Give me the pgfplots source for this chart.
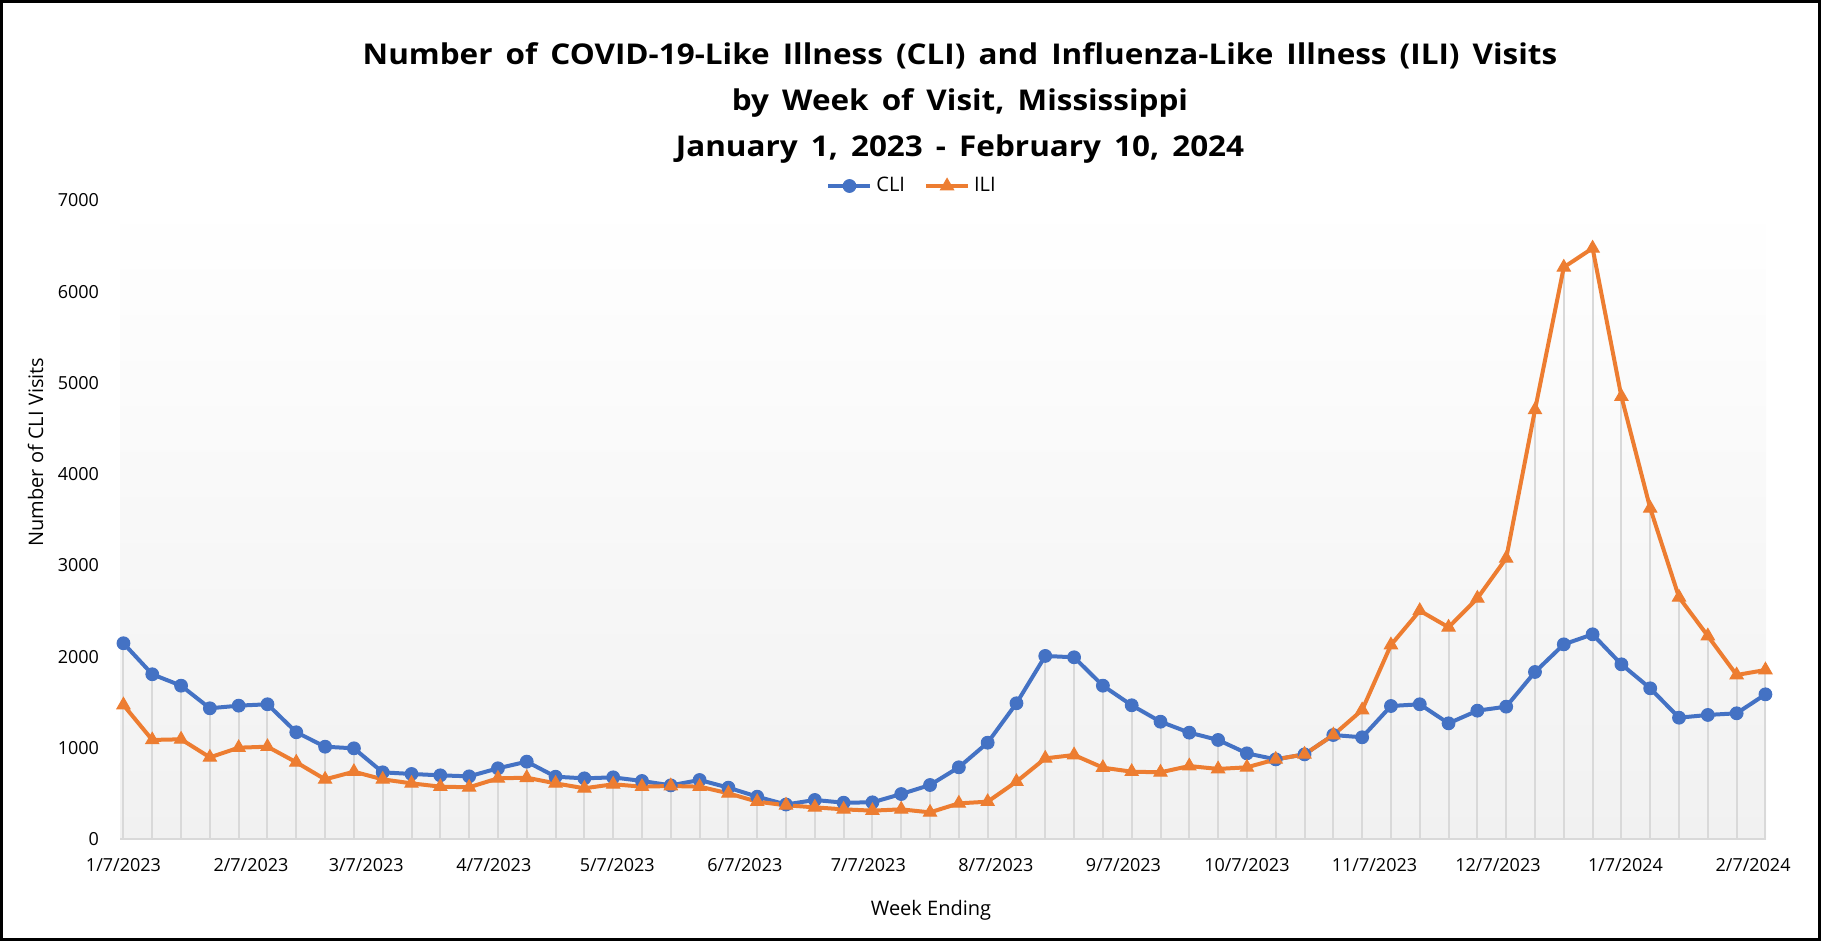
\documentclass[border=0pt]{standalone}
\usepackage{fontspec}
\setmainfont{Open Sans}
\newfontfamily\titlefont[FakeStretch=1.1, WordSpace=1.6]{Open Sans}
\usepackage{pgfplots}
\usepackage{pgfplotstable}
\pgfplotsset{compat=1.18}
\definecolor{cliblue}{HTML}{4472C4}
\definecolor{iliorange}{HTML}{ED7D31}
\definecolor{dropgray}{HTML}{D9D9D9}
\definecolor{bgbot}{HTML}{F1F1F1}

\pgfplotstableread{
x cli ili
0 2146 1469
1 1806 1086
2 1681 1093
3 1433 895
4 1462 1001
5 1477 1012
6 1170 841
7 1012 654
8 994 738
9 731 654
10 713 610
11 698 574
12 687 567
13 775 665
14 848 672
15 683 610
16 665 556
17 676 600
18 636 574
19 588 581
20 647 574
21 563 501
22 464 409
23 378 370
24 428 347
25 398 325
26 402 311
27 493 325
28 592 292
29 786 391
30 1056 409
31 1488 629
32 2007 884
33 1992 921
34 1681 782
35 1466 738
36 1286 731
37 1166 800
38 1086 768
39 939 786
40 873 873
41 928 928
42 1140 1140
43 1115 1414
44 1458 2127
45 1477 2503
46 1268 2321
47 1407 2639
48 1451 3077
49 1831 4704
50 2134 6268
51 2244 6477
52 1915 4850
53 1652 3626
54 1330 2650
55 1360 2226
56 1378 1798
57 1586 1853
}\datatable

\begin{document}
\begin{tikzpicture}
\draw[black, line width=1.5pt] (0.75pt,-0.75pt) rectangle (909.75pt,-469.75pt);
\node[anchor=base, font=\titlefont\bfseries\fontsize{14.3}{17}\selectfont, inner sep=0pt] at (480pt,-32.5pt) {Number of COVID-19-Like Illness (CLI) and Influenza-Like Illness (ILI) Visits};
\node[anchor=base, font=\titlefont\bfseries\fontsize{14.3}{17}\selectfont, inner sep=0pt] at (480pt,-55.5pt) {by Week of Visit, Mississippi};
\node[anchor=base, font=\titlefont\bfseries\fontsize{14.3}{17}\selectfont, inner sep=0pt] at (480pt,-78.5pt) {January 1, 2023 - February 10, 2024};
\begin{axis}[
  set layers,
  at={(60pt,-419.5pt)}, anchor=south west,
  scale only axis, width=823pt, height=319.25pt,
  xmin=-0.12, xmax=57.02, ymin=0, ymax=7000,
  axis x line=bottom, axis y line=left,
  x axis line style={dropgray, line width=1pt, -},
  y axis line style={draw=none},
  xtick={0,4.4286,8.4286,12.857,17.143,21.571,25.857,30.286,34.714,39,43.429,47.714,52.143,56.571},
  xticklabels={1/7/2023,2/7/2023,3/7/2023,4/7/2023,5/7/2023,6/7/2023,7/7/2023,8/7/2023,9/7/2023,10/7/2023,11/7/2023,12/7/2023,1/7/2024,2/7/2024},
  ytick={0,1000,...,7000},
  tick style={draw=none},
  major tick length=0pt,
  tick label style={font=\fontsize{9}{10}\selectfont},
  /pgf/number format/assume math mode=true,
  /pgf/number format/1000 sep={},
  yticklabel style={xshift=-7pt},
  xticklabel style={yshift=-6pt},
  xlabel={Week Ending}, ylabel={Number of CLI Visits},
  label style={font=\fontsize{10}{12}\selectfont},
  xlabel style={at={(axis description cs:0.4927,-0.1112)}, anchor=center},
  ylabel style={at={(axis description cs:-0.0513,0.606)}, anchor=center},
  legend style={at={(axis description cs:0.4818,1.0227)}, anchor=center, draw=none, fill=none,
    font=\fontsize{10}{12}\selectfont, /tikz/every even column/.append style={column sep=7.5pt}},
  legend columns=2,
  legend image code/.code={\draw[mark repeat=2,mark phase=2,#1] plot coordinates {(0pt,0pt) (10.5pt,0pt) (21pt,0pt)};},
]
\begin{pgfonlayer}{axis background}
\shade[top color=white, bottom color=bgbot] (axis cs:-0.12,0) rectangle (axis cs:57.02,7000);
\end{pgfonlayer}
\addplot[ycomb, dropgray, line width=1pt, mark=none, forget plot] table[x=x,y=cli]{\datatable};
\addplot[ycomb, dropgray, line width=1pt, mark=none, forget plot] table[x=x,y=ili]{\datatable};
\addplot[cliblue, line width=2pt, mark=*, mark size=3.2pt, mark options={solid, fill=cliblue, line width=0.5pt}] table[x=x,y=cli]{\datatable};
\addlegendentry{CLI}
\addplot[iliorange, line width=2pt, mark=triangle*, mark size=3.8pt, mark options={solid, fill=iliorange, line width=0.5pt}] table[x=x,y=ili]{\datatable};
\addlegendentry{ILI}
\end{axis}
\end{tikzpicture}
\end{document}
